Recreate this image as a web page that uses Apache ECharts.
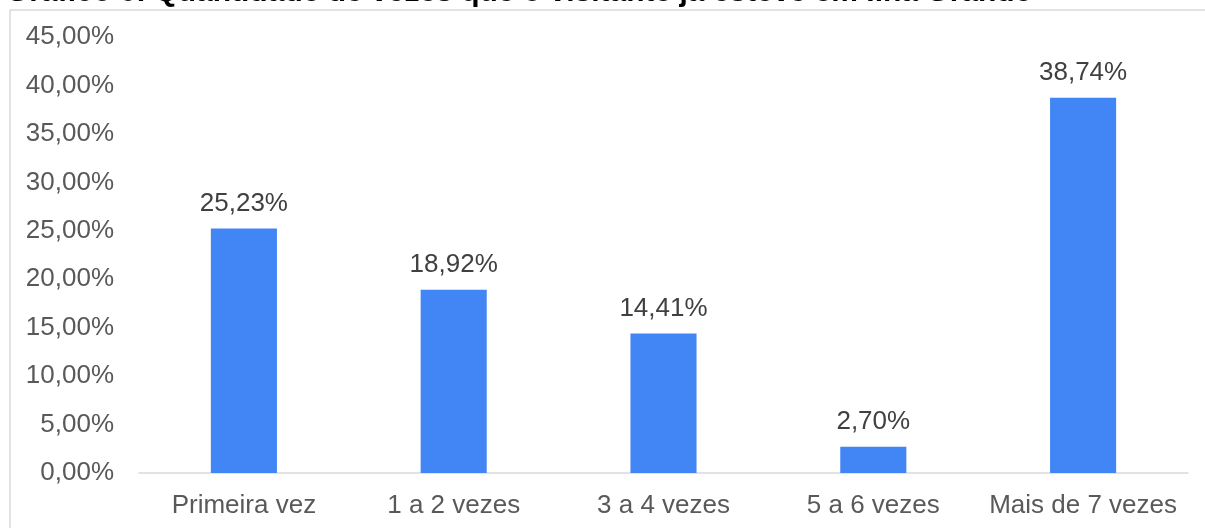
<!DOCTYPE html>
<html>
<head>
<meta charset="utf-8">
<script src="https://cdn.jsdelivr.net/npm/echarts@6/dist/echarts.min.js"></script>
<style>
html,body{margin:0;padding:0;background:#fff;}
#chart{width:1205px;height:528px;}
</style>
</head>
<body>
<div id="chart"></div>
<script>
const titleText = 'Gráfico 6: Quantidade de vezes que o visitante já esteve em Ilha Grande';
const categories = ['Primeira vez', '1 a 2 vezes', '3 a 4 vezes', '5 a 6 vezes', 'Mais de 7 vezes'];
const values = [25.23, 18.92, 14.41, 2.70, 38.74];
const yTicks = { min: 0, max: 45, interval: 5 };

const fmt = v => v.toFixed(2).replace('.', ',') + '%';
const FONT = 'Liberation Sans, Arial, sans-serif';

const chart = echarts.init(document.getElementById('chart'), null, { renderer: 'canvas' });
chart.setOption({
  backgroundColor: '#ffffff',
  animation: false,
  graphic: [
    { type: 'rect', left: 7.5, top: 7.5, shape: { x: 0, y: 0, width: 1300, height: 700 },
      style: { fill: 'none', stroke: '#d9d9d9', lineWidth: 1.5 }, silent: true, z: -1 },
    { type: 'text', x: 6, y: 7.5,
      style: { text: titleText, font: 'bold 30px ' + FONT, fill: '#000', verticalAlign: 'bottom', align: 'left' } }
  ],
  grid: { left: 139, right: 17, top: 37, bottom: 55, containLabel: false },
  xAxis: {
    type: 'category',
    data: categories,
    axisLine: { lineStyle: { color: '#d9d9d9', width: 1.5 } },
    axisTick: { show: false },
    axisLabel: { color: '#595959', fontSize: 26, fontFamily: FONT, margin: 20, interval: 0 }
  },
  yAxis: {
    type: 'value',
    min: yTicks.min, max: yTicks.max, interval: yTicks.interval,
    splitLine: { show: false },
    axisLine: { show: false },
    axisTick: { show: false },
    axisLabel: { color: '#595959', fontSize: 26, fontFamily: FONT, margin: 25, formatter: v => fmt(v) }
  },
  series: [{
    type: 'bar',
    data: values,
    barWidth: '31.5%',
    itemStyle: { color: '#4285F4' },
    label: {
      show: true, position: 'top', distance: 12,
      color: '#404040', fontSize: 26, fontFamily: FONT,
      formatter: p => fmt(p.value)
    }
  }]
});
</script>
</body>
</html>
